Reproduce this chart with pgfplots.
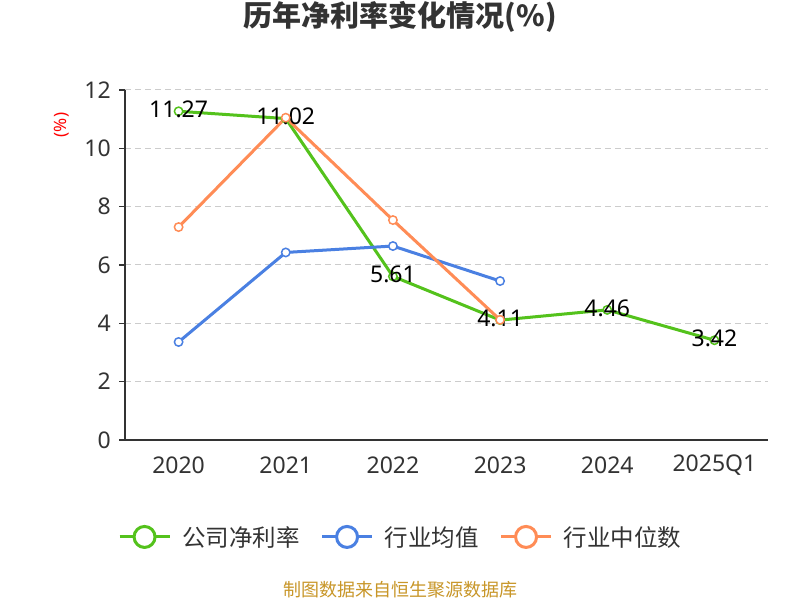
\documentclass[border=0pt]{standalone}
\usepackage{pgfplots}
\pgfplotsset{compat=1.18}
\usepackage{fontspec}
\setmainfont{Noto Sans}
\newfontfamily\cjk{Noto Sans CJK SC}
\definecolor{cgreen}{RGB}{84,194,28}
\definecolor{cblue}{RGB}{74,128,226}
\definecolor{corange}{RGB}{255,140,86}
\definecolor{cfoot}{RGB}{200,150,40}
\definecolor{ctext}{RGB}{51,51,51}
\definecolor{cgrid}{RGB}{204,204,204}
\pgfplotsset{
  legend image code/.code={%
    \draw[#1,mark=none] (0bp,0bp)--(50bp,0bp);
    \draw[#1,mark=none,fill=white] (25bp,0bp) circle (10.5bp);
  }
}
\begin{document}
\begin{tikzpicture}[x=1bp,y=1bp]
\useasboundingbox (0,0) rectangle (800,600);
\fill[white] (0,0) rectangle (800,600);
\begin{axis}[
  at={(125bp,160bp)}, anchor=south west,
  scale only axis, width=643bp, height=350bp,
  xmin=-0.5, xmax=5.5, ymin=0, ymax=12,
  axis x line=bottom, axis y line=left,
  axis line style={-, ctext, line width=1.2bp},
  xtick={0,1,2,3,4,5},
  xticklabels={2020,2021,2022,2023,2024,2025Q1},
  major x tick style={draw=none},
  extra x ticks={-0.5,0.5,1.5,2.5,3.5,4.5,5.5},
  extra x tick labels={},
  extra x tick style={major tick length=7bp, tick align=outside, tick style={ctext, line width=1.2bp}, grid=none},
  ytick={0,2,...,12},
  tick align=outside,
  major tick length=6bp,
  y tick style={ctext, line width=1.2bp},
  ymajorgrids,
  grid style={cgrid, dashed, dash pattern=on 6bp off 4bp, line width=1bp},
  /pgf/number format/assume math mode=true,
  ticklabel style={font=\fontsize{23bp}{26bp}\selectfont, text=ctext},
  xticklabel style={anchor=center, yshift=-19bp},
  yticklabel style={anchor=east, inner sep=0pt, xshift=-8bp},
  ylabel={(\%)},
  ylabel style={at={(rel axis cs:-0.098,0.9)}, anchor=center, text=red, font=\fontsize{17bp}{20bp}\selectfont},
  title={\cjk\bfseries 历年净利率变化情况(\%)},
  title style={at={(rel axis cs:0.428,1.191)}, anchor=center, font=\fontsize{29bp}{32bp}\selectfont, text=ctext},
  legend columns=3,
  legend style={at={(rel axis cs:0.427,-0.277)}, anchor=center, draw=none, fill=none,
    font=\cjk\fontsize{23.5bp}{26bp}\selectfont, text=ctext,
    nodes={inner sep=0pt},
    /tikz/every odd column/.append style={column sep=11bp},
    /tikz/every even column/.append style={column sep=21bp}},
  legend cell align=left,
  clip=false,
]
\addplot[cgreen, line width=3bp, mark=*, mark size=4.2bp, mark options={fill=white, line width=1.5bp},
  nodes near coords={\pgfmathprintnumber[fixed,fixed zerofill,precision=2]{\pgfplotspointmeta}},
  every node near coord/.append style={anchor=center, yshift=2bp, text=black, font=\fontsize{23bp}{26bp}\selectfont}]
  coordinates {(0,11.27) (1,11.02) (2,5.61) (3,4.11) (4,4.46) (5,3.42)};
\addlegendentry{公司净利率}
\addplot[cblue, line width=3bp, mark=*, mark size=4.2bp, mark options={fill=white, line width=1.5bp}]
  coordinates {(0,3.36) (1,6.43) (2,6.65) (3,5.45)};
\addlegendentry{行业均值}
\addplot[corange, line width=3bp, mark=*, mark size=4.2bp, mark options={fill=white, line width=1.5bp}]
  coordinates {(0,7.30) (1,11.05) (2,7.54) (3,4.12)};
\addlegendentry{行业中位数}
\end{axis}
\node[text=cfoot, font=\cjk\fontsize{18bp}{21bp}\selectfont] at (400,10) {制图数据来自恒生聚源数据库};
\end{tikzpicture}
\end{document}
